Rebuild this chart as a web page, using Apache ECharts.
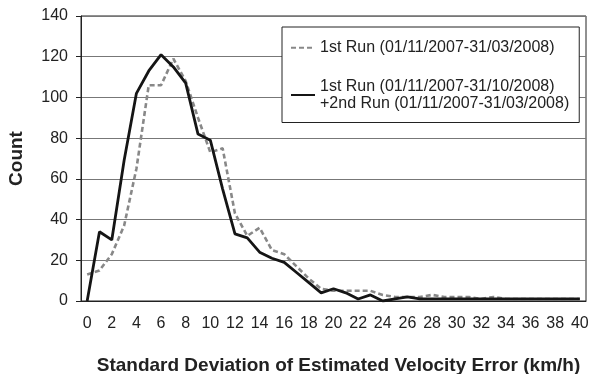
<!DOCTYPE html>
<html>
<head>
<meta charset="utf-8">
<script src="https://cdn.jsdelivr.net/npm/echarts@6/dist/echarts.min.js"></script>
<style>
html, body { margin: 0; padding: 0; background: #fff; }
#chart { width: 590px; height: 374px; }
</style>
</head>
<body>
<div id="chart"></div>
<script>
var categories = ["0", "1", "2", "3", "4", "5", "6", "7", "8", "9", "10",
  "11", "12", "13", "14", "15", "16", "17", "18", "19", "20",
  "21", "22", "23", "24", "25", "26", "27", "28", "29", "30",
  "31", "32", "33", "34", "35", "36", "37", "38", "39", "40"];

var firstRunName = "1st Run (01/11/2007-31/03/2008)";
var firstRun = [13, 15, 23, 37, 65, 106, 106, 119, 108, 90, 73,
  75, 43, 32, 36, 25, 23, 17, 11, 6, 5,
  5, 5, 5, 3, 2, 2, 2, 3, 2, 2,
  2, 1, 2, 1, 1, 1, 1, 1, 1, 1];

var bothRunsName = "1st Run (01/11/2007-31/10/2008)\n+2nd Run (01/11/2007-31/03/2008)";
var bothRuns = [0, 34, 30, 69, 102, 113, 121, 115, 107, 82, 79,
  55, 33, 31, 24, 21, 19, 14, 9, 4, 6,
  4, 1, 3, 0, 1, 2, 1, 1, 1, 1,
  1, 1, 1, 1, 1, 1, 1, 1, 1, 1];

var yTicks = { min: 0, max: 140, step: 20 };

var font = "Liberation Sans, Arial, sans-serif";

var option = {
  animation: false,
  textStyle: { fontFamily: font },
  grid: {
    left: 81, right: 4, top: 16, bottom: 73,
    outerBoundsMode: "none",
    show: true, borderColor: "#222", borderWidth: 1
  },
  legend: {
    orient: "vertical",
    left: 282, top: 27,
    backgroundColor: "#fff",
    borderColor: "#222",
    borderWidth: 1,
    padding: [12, 10, 10, 8],
    itemWidth: 24,
    itemHeight: 14,
    itemGap: 21,
    itemStyle: { opacity: 0 },
    textStyle: { fontFamily: font, fontSize: 16, color: "#222", lineHeight: 17.5 },
    data: [firstRunName, bothRunsName]
  },
  xAxis: {
    type: "category",
    data: categories,
    boundaryGap: true,
    name: "Standard Deviation of Estimated Velocity Error (km/h)",
    nameLocation: "middle",
    nameGap: 55,
    nameTextStyle: { fontFamily: font, fontSize: 19, fontWeight: "bold", color: "#222", padding: [0, 0, 0, 10] },
    axisLine: { lineStyle: { color: "#222", width: 1 } },
    axisTick: { interval: 0, length: 5, lineStyle: { color: "#222" } },
    axisLabel: { interval: 1, fontSize: 16, color: "#222", margin: 15 },
    splitLine: { show: false }
  },
  yAxis: {
    type: "value",
    min: yTicks.min,
    max: yTicks.max,
    interval: yTicks.step,
    name: "Count",
    nameLocation: "middle",
    nameGap: 55,
    nameTextStyle: { fontFamily: font, fontSize: 19, fontWeight: "bold", color: "#222" },
    axisLine: { show: true, lineStyle: { color: "#222", width: 1 } },
    axisTick: { show: true, length: 5, lineStyle: { color: "#222" } },
    axisLabel: { fontSize: 16, color: "#222", margin: 13 },
    splitLine: { lineStyle: { color: "#777", width: 1 } }
  },
  series: [
    {
      name: firstRunName,
      type: "line",
      data: firstRun,
      symbol: "none",
      itemStyle: { color: "#888" },
      lineStyle: { color: "#888", width: 2.6, type: [5, 3] }
    },
    {
      name: bothRunsName,
      type: "line",
      data: bothRuns,
      symbol: "none",
      itemStyle: { color: "#151515" },
      lineStyle: { color: "#151515", width: 2.8 }
    }
  ]
};

var myChart = echarts.init(document.getElementById("chart"));
myChart.setOption(option);
</script>
</body>
</html>
